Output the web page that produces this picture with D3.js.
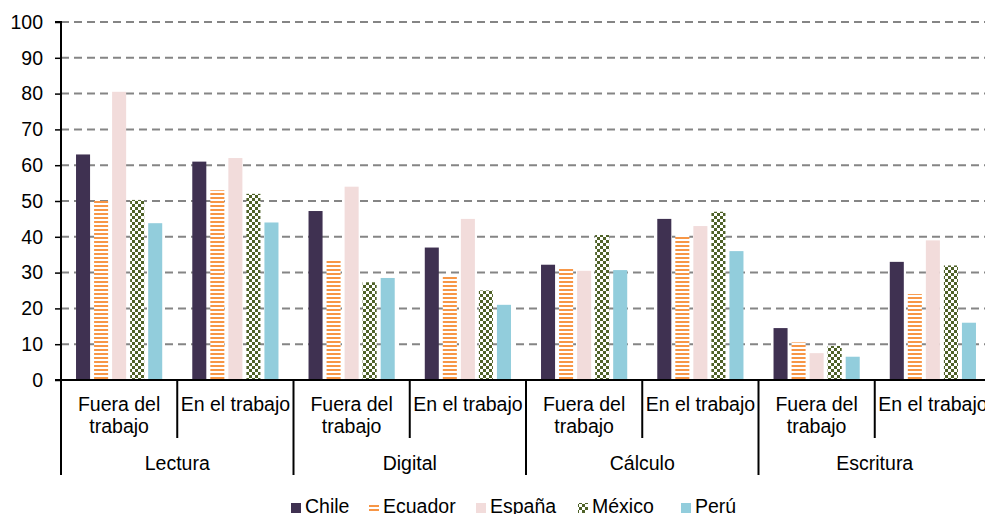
<!DOCTYPE html>
<html><head><meta charset="utf-8">
<script src="https://cdn.jsdelivr.net/npm/d3@7"></script>
<style>body{margin:0;background:#fff}svg{display:block;font-family:"Liberation Sans",Arial,sans-serif}</style>
</head><body><svg id="c" width="985" height="514"></svg>
<script>
const groups = ["Lectura","Digital","Cálculo","Escritura"];
const subs = ["Fuera del trabajo","En el trabajo"];
const series = ["Chile","Ecuador","España","México","Perú"];
const yTicks = [0,10,20,30,40,50,60,70,80,90,100];
// values per series, order: Lectura-Fuera, Lectura-En, Digital-Fuera, Digital-En, Cálculo-Fuera, Cálculo-En, Escritura-Fuera, Escritura-En
const chile   = [63, 61, 47.2, 37, 32.2, 45, 14.5, 33];
const ecuador = [50, 53, 33.5, 29, 31, 40.5, 10.5, 24];
const espana  = [80.5, 62, 54, 45, 30.5, 43, 7.5, 39];
const mexico  = [50.3, 52, 27.3, 25, 40.5, 47, 9.5, 32];
const peru    = [43.8, 44, 28.5, 21, 30.7, 36, 6.5, 16];
const values = [chile, ecuador, espana, mexico, peru];

const FS = 19.5;
const svg = d3.select("#c");
const defs = svg.append("defs");
const stripe = defs.append("pattern").attr("id","stripe").attr("patternUnits","userSpaceOnUse").attr("width",6).attr("height",4);
stripe.append("rect").attr("width",6).attr("height",4).attr("fill","#fff");
stripe.append("rect").attr("y",1).attr("width",6).attr("height",2).attr("fill","#f79646");
const check = defs.append("pattern").attr("id","check").attr("patternUnits","userSpaceOnUse").attr("width",6).attr("height",6);
check.append("rect").attr("width",6).attr("height",6).attr("fill","#fff");
check.append("rect").attr("width",3).attr("height",3).attr("fill","#4f6228");
check.append("rect").attr("x",3).attr("y",3).attr("width",3).attr("height",3).attr("fill","#4f6228");
const fills = ["#3f3151","url(#stripe)","#f2dcdb","url(#check)","#92cddc"];

const pLeft = 61, pRight = 991, pTop = 22, pBottom = 380;
const cats = [];
groups.forEach(g => subs.forEach(s => cats.push(g + "|" + s)));
const x0 = d3.scaleBand().domain(cats).range([pLeft, pRight]).padding(0);
const x1 = d3.scaleBand().domain(series).range([0, x0.bandwidth()]).paddingInner(0.222).paddingOuter(0.833);
const y = d3.scaleLinear().domain([0,100]).range([pBottom, pTop]);

// gridlines
svg.append("g").selectAll("line").data(yTicks.filter(d=>d>0)).join("line")
  .attr("x1", pLeft).attr("x2", 985).attr("y1", d=>y(d)).attr("y2", d=>y(d))
  .attr("stroke","#858585").attr("stroke-width",2).attr("stroke-dasharray","8,5");

// bars
series.forEach((s, si) => {
  svg.append("g").selectAll("rect").data(values[si]).join("rect")
    .attr("x", (d,i) => x0(cats[i]) + x1(s))
    .attr("width", x1.bandwidth())
    .attr("y", d => y(d))
    .attr("height", d => pBottom - y(d))
    .attr("fill", fills[si]);
});

// y axis
const yAxis = d3.axisLeft(y).tickValues(yTicks).tickSize(6).tickPadding(12).tickFormat(d3.format("d"));
const ya = svg.append("g").attr("transform",`translate(${pLeft},0)`).call(yAxis);
ya.select(".domain").attr("stroke","#000").attr("stroke-width",2).attr("d",`M-6,${pTop}H0V${pBottom}`);
ya.selectAll(".tick line").attr("stroke","#000").attr("stroke-width",1.5);
ya.selectAll(".tick text").attr("font-size",FS).attr("fill","#000").attr("font-family","Liberation Sans, Arial, sans-serif");

// x axis baseline
svg.append("line").attr("x1",pLeft-6).attr("x2",985).attr("y1",pBottom).attr("y2",pBottom).attr("stroke","#000").attr("stroke-width",2);

// dividers
cats.forEach((c, i) => {
  const xx = x0(c);
  const long = (i % 2 === 0);
  svg.append("line").attr("x1",xx).attr("x2",xx).attr("y1",pBottom).attr("y2", long ? 475 : 438)
    .attr("stroke","#000").attr("stroke-width",2);
});

// sub labels
const tg = svg.append("g").attr("font-size",FS).attr("fill","#000").attr("text-anchor","middle");
cats.forEach(c => {
  const sub = c.split("|")[1];
  const cx = x0(c) + x0.bandwidth()/2;
  if (sub === subs[0]) {
    tg.append("text").attr("x",cx).attr("y",411).text("Fuera del");
    tg.append("text").attr("x",cx).attr("y",433).text("trabajo");
  } else {
    tg.append("text").attr("x",cx).attr("y",411).text(sub);
  }
});
groups.forEach(g => {
  const cx = x0(g + "|" + subs[0]) + x0.bandwidth();
  tg.append("text").attr("x",cx).attr("y",470).text(g);
});

// legend
const legX = [291, 369, 476, 578, 681];
const lg = svg.append("g").attr("font-size",FS);
series.forEach((s, si) => {
  lg.append("rect").attr("x",legX[si]).attr("y",503).attr("width",10).attr("height",10).attr("fill",fills[si]);
  lg.append("text").attr("x",legX[si]+14).attr("y",513).text(s).attr("fill","#000");
});
</script></body></html>
